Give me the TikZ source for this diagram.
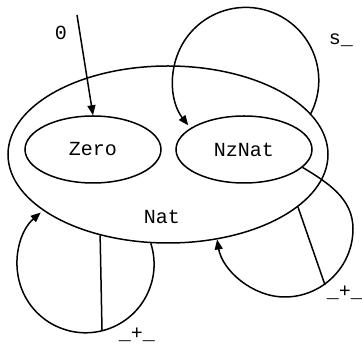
\documentclass[tikz,border=0pt]{standalone}
\usepackage{fontspec}
\setmonofont{Liberation Mono}
\usetikzlibrary{arrows.meta,shapes.geometric}
\begin{document}
\begin{tikzpicture}[x=1pt,y=1pt, line width=1.5pt,
  lbl/.style={font=\ttfamily\fontsize{20}{24}\selectfont, inner sep=0},
  sortnode/.style={draw, ellipse, inner sep=0, font=\ttfamily\fontsize{20}{24}\selectfont},
  arr/.style={-{Triangle[length=10pt,width=8pt]}}]
\useasboundingbox (0,0) rectangle (362,350);
\node[sortnode, minimum width=320pt, minimum height=177pt] (nat) at (168,195.5) {};
\node[lbl] (natlabel) at (162,133) {Nat};
\node[sortnode, minimum width=136pt, minimum height=67pt] (zero) at (93,200.5) {Zero};
\node[sortnode, minimum width=136pt, minimum height=67pt] (nznat) at (244,200.5) {NzNat};
\coordinate (src) at (77,335);
\draw[arr] (src) -- (zero.north);
\node[lbl, anchor=base] (l0) at (61,310) {0};
% s_
\draw[arr] (nat.16) arc[start angle=-27, end angle=218, radius=73];
\node[lbl, anchor=base] (ls) at (341,305) {s\_};
% left
\draw[arr] (nat.259.5) arc[start angle=17.9, end angle=-229.1, radius=68.5];
\coordinate (lj) at (102,20);
\draw (nat.230.7) -- (lj);
\node[lbl, anchor=base] (lp1) at (137,10) {\_+\_};
% right
\draw[arr] (nznat.-17) .. controls (327.6,167.5) and (353,151.5) .. (353,121.2) .. controls (353,83.6) and (322.4,53) .. (284.76,53) .. controls (252.6,53) and (222.4,79.5) .. (nat.-60.5);
\coordinate (rj) at (325,65);
\draw (nat.-22.8) -- (rj);
\node[lbl, anchor=base] (lp2) at (345,52) {\_+\_};
\end{tikzpicture}
\end{document}
